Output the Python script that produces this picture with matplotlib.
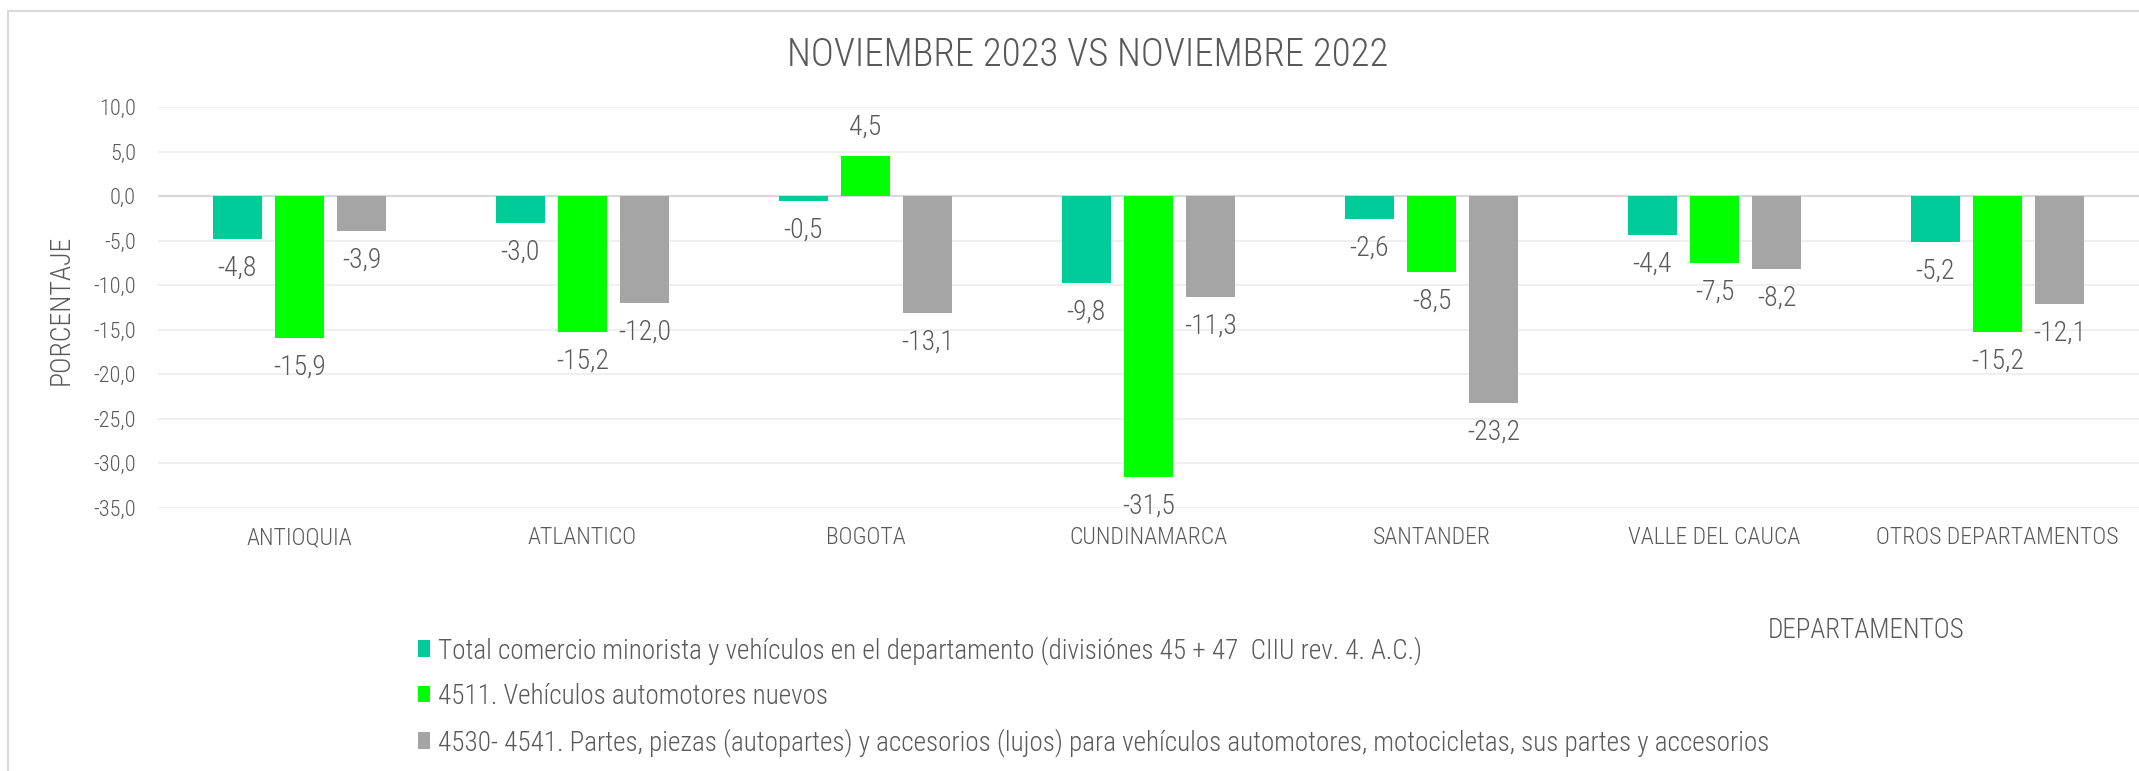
import matplotlib.pyplot as plt
from matplotlib.patches import Rectangle
import numpy as np

plt.rcParams['font.family'] = ['Roboto Condensed', 'DejaVu Sans']
plt.rcParams['font.weight'] = 300

departamentos = ['ANTIOQUIA', 'ATLANTICO', 'BOGOTA', 'CUNDINAMARCA',
                 'SANTANDER', 'VALLE DEL CAUCA', 'OTROS DEPARTAMENTOS']
total = [-4.8, -3.0, -0.5, -9.8, -2.6, -4.4, -5.2]
vehiculos = [-15.9, -15.2, 4.5, -31.5, -8.5, -7.5, -15.2]
partes = [-3.9, -12.0, -13.1, -11.3, -23.2, -8.2, -12.1]

series_names = [
    'Total comercio minorista y vehículos en el departamento (divisiónes 45 + 47  CIIU rev. 4. A.C.)',
    '4511. Vehículos automotores nuevos',
    '4530- 4541. Partes, piezas (autopartes) y accesorios (lujos) para vehículos automotores, motocicletas, sus partes y accesorios',
]
colores = ['#00CC99', '#00FF00', '#A5A5A5']
gris = '#595959'

def coma(v):
    return f'{v:.1f}'.replace('.', ',')

fig = plt.figure(figsize=(21.39, 7.71), dpi=100)
ax = fig.add_axes([158 / 2139, 1 - 508 / 771, 1 - 158 / 2139, (508 - 107) / 771])

x = np.arange(len(departamentos))
w = 0.173
step = 0.22
handles = []
for i, (vals, c) in enumerate(zip([total, vehiculos, partes], colores)):
    b = ax.bar(x + (i - 1) * step, vals, w, color=c, zorder=3)
    handles.append(b)
    for xi, v in zip(x + (i - 1) * step, vals):
        ax.annotate(coma(v), (xi, v), xytext=(0, 21 if v > 0 else -21),
                    textcoords='offset points', ha='center', va='center',
                    fontsize=20, color=gris)

ax.set_xlim(-0.5, len(departamentos) - 0.5)
ax.set_ylim(-35, 10)
ax.set_yticks(np.arange(-35, 10.1, 5))
ax.set_yticklabels([coma(t) for t in np.arange(-35, 10.1, 5)])
ax.set_xticks(x)
ax.set_xticklabels(departamentos)
ax.tick_params(axis='both', length=0, colors=gris)
ax.tick_params(axis='y', labelsize=16, pad=16)
ax.tick_params(axis='x', labelsize=17, pad=13)
for s in ax.spines.values():
    s.set_visible(False)
ax.grid(axis='y', color='#EFEFEF', linewidth=1.5, zorder=0)
ax.axhline(0, color='#D9D9D9', linewidth=1.5, zorder=2)

fig.text(61 / 2139, 1 - 310 / 771, 'PORCENTAJE', rotation=90,
         ha='center', va='center', fontsize=20, color=gris)
fig.text(1088 / 2139, 1 - 55 / 771, 'NOVIEMBRE 2023 VS NOVIEMBRE 2022',
         ha='center', va='center', fontsize=28, color=gris)
fig.text(1866 / 2139, 1 - 630 / 771, 'DEPARTAMENTOS',
         ha='center', va='center', fontsize=19.5, color=gris)

fig.legend(handles, series_names, loc='upper left',
           bbox_to_anchor=(418 / 2139, 1 - 636 / 771), frameon=False,
           fontsize=19.5, labelcolor=gris, handlelength=0.45, handleheight=0.55,
           handletextpad=0.3, labelspacing=0.67, borderpad=0, borderaxespad=0)

fig.patches.append(Rectangle((8 / 2139, -0.05), 1.1, 1 - 11 / 771 + 0.05,
                             transform=fig.transFigure, fill=False,
                             edgecolor='#D9D9D9', linewidth=1.5))

fig.savefig('out.png', dpi=100)
